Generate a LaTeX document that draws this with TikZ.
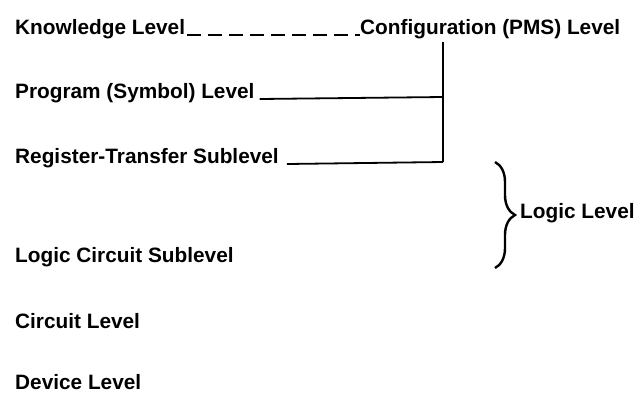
\documentclass[tikz,border=0pt]{standalone}
\usepackage{fontspec}
\setmainfont{Liberation Sans}
\usetikzlibrary{decorations.pathreplacing}
\begin{document}
\begin{tikzpicture}[x=1pt,y=-1pt,
  lbl/.style={anchor=base west,inner sep=0pt,font=\fontsize{20.8}{25}\selectfont\bfseries},
  conn/.style={line width=1.8pt},
  dashconn/.style={line width=1.8pt,dash pattern=on 14pt off 7pt},
  bracestyle/.style={line width=2.4pt,decorate,decoration={brace,amplitude=20pt}}]
\useasboundingbox (0,0) rectangle (637,392);
\node[lbl] (know) at (15,34) {Knowledge Level};
\node[lbl] (conf) at (360,34) {Configuration (PMS) Level};
\node[lbl] (prog) at (15,98) {Program (Symbol) Level};
\node[lbl] (reg) at (15,163) {Register-Transfer Sublevel};
\node[lbl] (lcs) at (15,262) {Logic Circuit Sublevel};
\node[lbl] (circ) at (15,328) {Circuit Level};
\node[lbl] (dev) at (15,389) {Device Level};
\node[lbl] (logic) at (520,218) {Logic Level};
\coordinate (vtop) at (443,42);
\coordinate (vprog) at (443,97);
\coordinate (vbot) at (443,162);
\coordinate (btop) at (495,162);
\coordinate (bbot) at (495,268);
\draw[dashconn] ([xshift=2pt,yshift=-1pt]know.base east) -- ([yshift=-1pt]conf.base west);
\draw[conn] (vtop) -- (vbot);
\draw[conn] ([xshift=5pt,yshift=-1pt]prog.base east) -- (vprog);
\draw[conn] ([xshift=8pt,yshift=-1pt]reg.base east) -- (vbot);
\draw[bracestyle] (btop) -- (bbot);
\end{tikzpicture}
\end{document}
